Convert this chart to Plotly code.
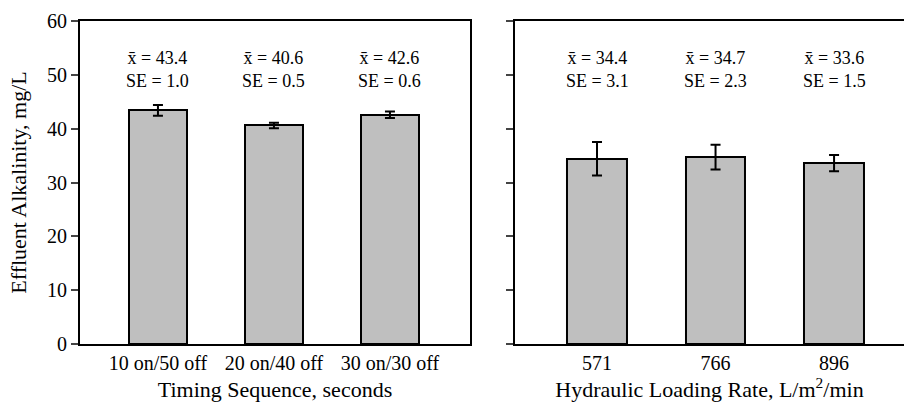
import plotly.graph_objects as go

# Data
timing_cats = ["10 on/50 off", "20 on/40 off", "30 on/30 off"]
timing_means = [43.4, 40.6, 42.6]
timing_se = [1.0, 0.5, 0.6]

hlr_cats = ["571", "766", "896"]
hlr_means = [34.4, 34.7, 33.6]
hlr_se = [3.1, 2.3, 1.5]

y_ticks = [0, 10, 20, 30, 40, 50, 60]

FONT = "Liberation Serif, Times New Roman, serif"
BAR_FILL = "#bfbfbf"

fig = go.Figure()

fig.add_trace(go.Bar(
    x=list(range(len(timing_cats))), y=timing_means, width=0.5,
    marker=dict(color=BAR_FILL, line=dict(color="black", width=2)),
    error_y=dict(type="data", array=timing_se, color="black", thickness=2, width=5),
    xaxis="x", yaxis="y", showlegend=False,
))
fig.add_trace(go.Bar(
    x=list(range(len(hlr_cats))), y=hlr_means, width=0.5,
    marker=dict(color=BAR_FILL, line=dict(color="black", width=2)),
    error_y=dict(type="data", array=hlr_se, color="black", thickness=2, width=5),
    xaxis="x2", yaxis="y2", showlegend=False,
))

annotations = []
for i, (m, se) in enumerate(zip(timing_means, timing_se)):
    annotations.append(dict(
        x=i, y=50.9, xref="x", yref="y", showarrow=False,
        text=f"x\u0304 = {m:.1f}<br>SE = {se:.1f}",
        font=dict(family=FONT, size=18, color="black"), align="center",
    ))
for i, (m, se) in enumerate(zip(hlr_means, hlr_se)):
    annotations.append(dict(
        x=i, y=50.9, xref="x2", yref="y2", showarrow=False,
        text=f"x\u0304 = {m:.1f}<br>SE = {se:.1f}",
        font=dict(family=FONT, size=18, color="black"), align="center",
    ))

axis_common = dict(showgrid=False, zeroline=False, linecolor="black", linewidth=2)

fig.update_layout(
    width=904, height=403,
    margin=dict(l=80, r=0, t=21, b=59),
    paper_bgcolor="white", plot_bgcolor="white",
    font=dict(family=FONT, size=20, color="black"),
    xaxis=dict(domain=[0, 0.4733], range=[-0.672, 2.69],
               tickvals=list(range(len(timing_cats))), ticktext=timing_cats,
               showline=True, mirror=True, ticks="",
               title=dict(text="Timing Sequence, seconds", font=dict(size=22), standoff=9),
               **axis_common),
    yaxis=dict(range=[0, 60], tickvals=y_ticks, ticks="outside", ticklen=7,
               tickwidth=2, showline=True, mirror=True, anchor="x",
               title=dict(text="Effluent Alkalinity, mg/L", font=dict(size=22), standoff=14),
               **axis_common),
    xaxis2=dict(domain=[0.5279, 1.0], range=[-0.692, 2.59], anchor="y2",
                tickvals=list(range(len(hlr_cats))), ticktext=hlr_cats,
                showline=True, mirror="allticks", ticks="",
                title=dict(text="Hydraulic Loading Rate, L/m<sup>2</sup>/min", font=dict(size=22), standoff=9),
                **axis_common),
    yaxis2=dict(range=[0, 60], tickvals=y_ticks, showticklabels=False,
                ticks="outside", ticklen=7, tickwidth=2, anchor="x2",
                showline=True, mirror=False, **axis_common),
    annotations=annotations,
    bargap=0,
)

fig.write_html("out.html", config={"displayModeBar": False},
               post_script="document.body.style.margin='0';")
